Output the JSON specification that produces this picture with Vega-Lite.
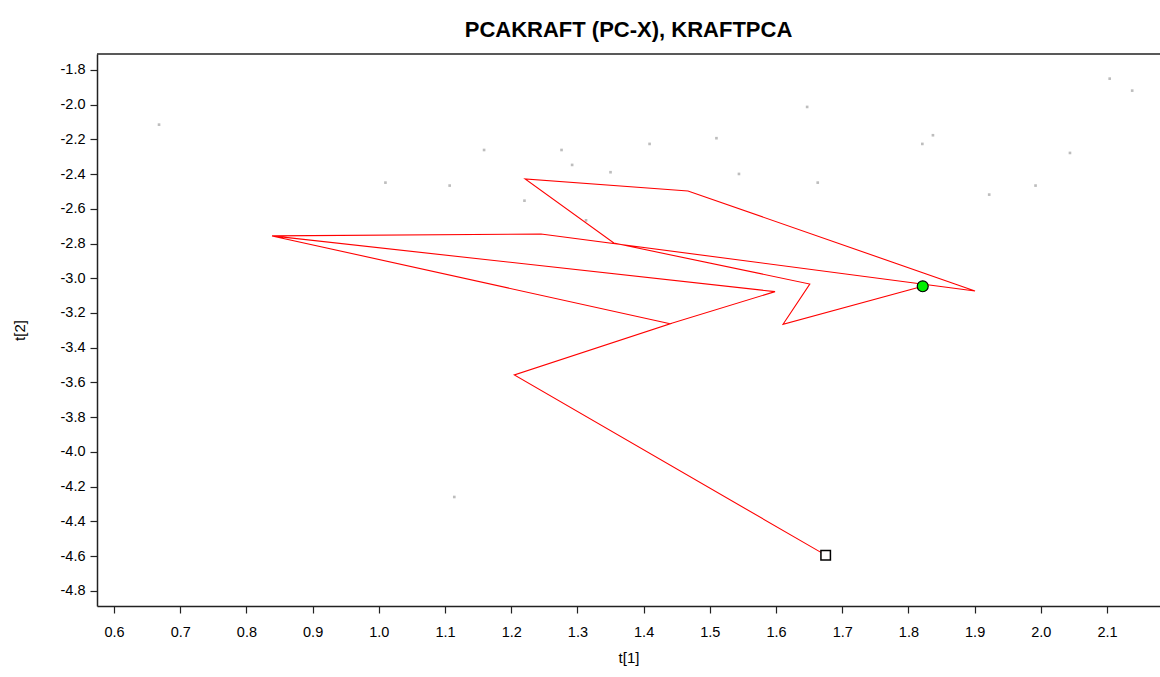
{
  "$schema": "https://vega.github.io/schema/vega-lite/v6.json",
  "width": 1063,
  "height": 552,
  "autosize": {"type": "none"},
  "padding": {"left": 97, "top": 54, "right": 0, "bottom": 71},
  "background": "white",
  "config": {
    "view": {"stroke": null},
    "font": "Liberation Sans",
    "axis": {
      "domainColor": "#222222",
      "domainWidth": 1.5,
      "tickColor": "#222222",
      "tickWidth": 1.2,
      "tickSize": 7,
      "grid": false,
      "labelOverlap": false,
      "labelFlush": false,
      "labelFont": "Liberation Sans",
      "labelFontSize": 14.5,
      "labelColor": "#000000",
      "titleFont": "Liberation Sans",
      "titleFontSize": 15,
      "titleFontWeight": "normal",
      "titleColor": "#000000"
    }
  },
  "title": {
    "text": "PCAKRAFT (PC-X), KRAFTPCA",
    "font": "Liberation Sans",
    "fontSize": 22,
    "fontWeight": "bold",
    "color": "#000000",
    "anchor": "middle",
    "offset": 11
  },
  "datasets": {
    "obs": [
      {"x": 0.668, "y": -2.115},
      {"x": 1.010, "y": -2.449},
      {"x": 1.107, "y": -2.466},
      {"x": 1.159, "y": -2.261},
      {"x": 1.276, "y": -2.261},
      {"x": 1.292, "y": -2.347},
      {"x": 1.409, "y": -2.226},
      {"x": 1.350, "y": -2.389},
      {"x": 1.510, "y": -2.193},
      {"x": 1.647, "y": -2.013},
      {"x": 1.544, "y": -2.399},
      {"x": 1.663, "y": -2.449},
      {"x": 1.220, "y": -2.553},
      {"x": 1.313, "y": -2.666},
      {"x": 2.104, "y": -1.850},
      {"x": 2.138, "y": -1.919},
      {"x": 1.837, "y": -2.176},
      {"x": 1.821, "y": -2.226},
      {"x": 2.044, "y": -2.278},
      {"x": 1.992, "y": -2.466},
      {"x": 1.922, "y": -2.518},
      {"x": 1.114, "y": -4.260}
    ],
    "traj": [
      {"seq": 1, "x": 1.675, "y": -4.595},
      {"seq": 2, "x": 1.2047, "y": -3.557},
      {"seq": 3, "x": 1.440, "y": -3.262},
      {"seq": 4, "x": 0.8387, "y": -2.756},
      {"seq": 5, "x": 1.5985, "y": -3.077},
      {"seq": 6, "x": 1.440, "y": -3.262},
      {"seq": 7, "x": 0.8387, "y": -2.756},
      {"seq": 8, "x": 1.245, "y": -2.745},
      {"seq": 9, "x": 1.9006, "y": -3.073},
      {"seq": 10, "x": 1.467, "y": -2.497},
      {"seq": 11, "x": 1.221, "y": -2.428},
      {"seq": 12, "x": 1.355, "y": -2.797},
      {"seq": 13, "x": 1.651, "y": -3.033},
      {"seq": 14, "x": 1.6106, "y": -3.265},
      {"seq": 15, "x": 1.8216, "y": -3.046}
    ],
    "start": [{"x": 1.675, "y": -4.595}],
    "end": [{"x": 1.8216, "y": -3.046}],
    "frame": [{"y": -1.708}]
  },
  "layer": [
    {
      "data": {"name": "obs"},
      "mark": {"type": "point", "shape": "square", "filled": true, "size": 7, "color": "#bdbdbd", "opacity": 1},
      "encoding": {
        "x": {
          "field": "x", "type": "quantitative",
          "scale": {"domain": [0.5743, 2.18], "nice": false, "zero": false},
          "axis": {
            "title": "t[1]",
            "values": [0.6, 0.7, 0.8, 0.9, 1.0, 1.1, 1.2, 1.3, 1.4, 1.5, 1.6, 1.7, 1.8, 1.9, 2.0, 2.1],
            "tickCount": 40,
            "format": ".1f",
            "labelPadding": 12,
            "titlePadding": 12
          }
        },
        "y": {
          "field": "y", "type": "quantitative",
          "scale": {"domain": [-4.888, -1.708], "nice": false, "zero": false},
          "axis": {
            "title": "t[2]",
            "values": [-1.8, -2.0, -2.2, -2.4, -2.6, -2.8, -3.0, -3.2, -3.4, -3.6, -3.8, -4.0, -4.2, -4.4, -4.6, -4.8],
            "tickCount": 40,
            "labelExpr": "replace(format(datum.value, '.1f'), '\u2212', '-')",
            "labelPadding": 5,
            "titlePadding": 33
          }
        }
      }
    },
    {
      "data": {"name": "frame"},
      "mark": {"type": "rule", "color": "#222222", "strokeWidth": 1.5},
      "encoding": {
        "y": {
          "field": "y", "type": "quantitative",
          "axis": {
            "title": "t[2]",
            "values": [-1.8, -2.0, -2.2, -2.4, -2.6, -2.8, -3.0, -3.2, -3.4, -3.6, -3.8, -4.0, -4.2, -4.4, -4.6, -4.8],
            "tickCount": 40,
            "labelExpr": "replace(format(datum.value, '.1f'), '\u2212', '-')",
            "labelPadding": 5,
            "titlePadding": 33
          }
        }
      }
    },
    {
      "data": {"name": "traj"},
      "mark": {"type": "line", "color": "#ff0000", "strokeWidth": 1.1},
      "encoding": {
        "x": {"field": "x", "type": "quantitative"},
        "y": {"field": "y", "type": "quantitative"},
        "order": {"field": "seq", "type": "quantitative"}
      }
    },
    {
      "data": {"name": "start"},
      "mark": {"type": "point", "shape": "square", "filled": true, "size": 90, "fill": "#ffffff", "stroke": "#000000", "strokeWidth": 1.5, "opacity": 1},
      "encoding": {
        "x": {"field": "x", "type": "quantitative"},
        "y": {"field": "y", "type": "quantitative"}
      }
    },
    {
      "data": {"name": "end"},
      "mark": {"type": "point", "shape": "circle", "filled": true, "size": 120, "fill": "#00ee00", "stroke": "#000000", "strokeWidth": 1.2, "opacity": 1},
      "encoding": {
        "x": {"field": "x", "type": "quantitative"},
        "y": {"field": "y", "type": "quantitative"}
      }
    }
  ]
}
